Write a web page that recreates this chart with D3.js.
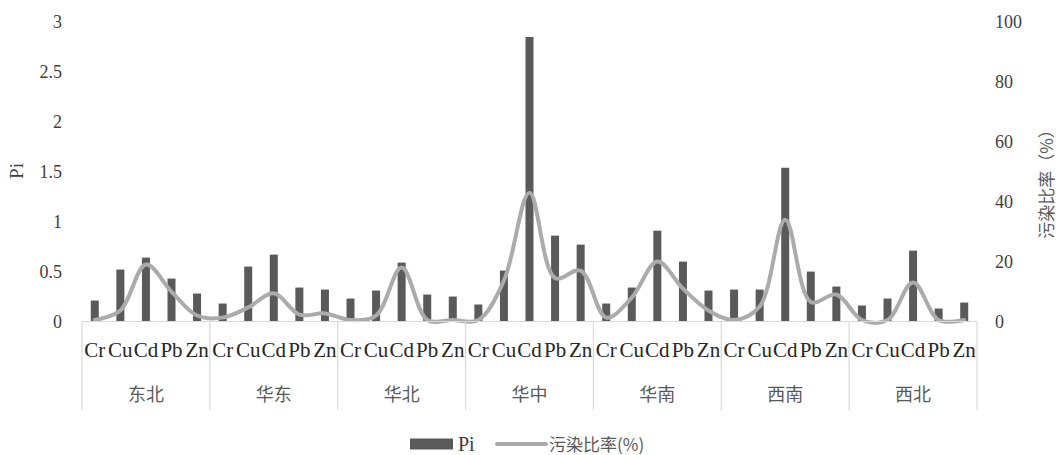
<!DOCTYPE html>
<html><head><meta charset="utf-8">
<script src="https://cdn.jsdelivr.net/npm/d3@7"></script>
<style>
body{margin:0;background:#fff}
.serif{font-family:"Liberation Serif","Times New Roman","DejaVu Serif",serif}
.cjk{font-family:"Noto Sans CJK SC","Noto Sans",sans-serif}
</style>
</head><body>
<svg id="c" width="1059" height="455"></svg>
<script>
const regions = ["东北","华东","华北","华中","华南","西南","西北"];
const elements = ["Cr","Cu","Cd","Pb","Zn"];
const piValues = [
  0.21,0.52,0.64,0.43,0.28,
  0.18,0.55,0.67,0.34,0.32,
  0.23,0.31,0.59,0.27,0.25,
  0.17,0.51,2.85,0.86,0.77,
  0.18,0.34,0.91,0.60,0.31,
  0.32,0.32,1.54,0.50,0.35,
  0.16,0.23,0.71,0.13,0.19
];
const ratioValues = [
  0.5,3.7,19,10,2,
  1.3,4.7,9.4,2.3,2.7,
  0.5,2,18,0.5,0.5,
  0.5,13.7,43,14.5,17,
  1.3,8,20,11,3.7,
  0.5,5,34,6.5,9,
  0.5,0.5,13,0.5,0.5
];
const leftTicks = [0,0.5,1,1.5,2,2.5,3];
const rightTicks = [0,20,40,60,80,100];

const svg = d3.select("#c");
const x0 = 82, x1 = 977, yTop = 22, yBase = 321.5;
const cats = d3.range(regions.length*elements.length);
const x = d3.scaleBand().domain(cats).range([x0,x1]).padding(0);
const yL = d3.scaleLinear().domain([0,3]).range([yBase,yTop]);
const yR = d3.scaleLinear().domain([0,100]).range([yBase,yTop]);

// bars
const bw = 8;
svg.append("g").selectAll("rect").data(piValues).join("rect")
  .attr("x",(d,i)=>x(i)+x.bandwidth()/2-bw/2)
  .attr("y",d=>yL(d))
  .attr("width",bw)
  .attr("height",d=>yBase-yL(d))
  .attr("fill","#5a5a5a");

// line
const line = d3.line().x((d,i)=>x(i)+x.bandwidth()/2).y(d=>yR(d)).curve(d3.curveCatmullRom.alpha(0.5));
svg.append("path").datum(ratioValues).attr("d",line)
  .attr("fill","none").attr("stroke","#ababab").attr("stroke-width",4)
  .attr("stroke-linejoin","round").attr("stroke-linecap","round");

// baseline & separators
svg.append("line").attr("x1",x0).attr("x2",x1).attr("y1",yBase).attr("y2",yBase)
  .attr("stroke","#d9d9d9").attr("stroke-width",1.2);
const step = (x1-x0)/regions.length;
d3.range(regions.length+1).forEach(i=>{
  svg.append("line").attr("x1",x0+i*step).attr("x2",x0+i*step)
    .attr("y1",yBase).attr("y2",410).attr("stroke","#d9d9d9").attr("stroke-width",1.2);
});

// category labels
svg.append("g").selectAll("text").data(cats).join("text")
  .attr("class","serif")
  .attr("x",i=>x(i)+x.bandwidth()/2).attr("y",357)
  .attr("text-anchor","middle").attr("font-size",21)
  .attr("fill","#262626").text(i=>elements[i%elements.length]);
svg.append("g").selectAll("text").data(regions).join("text")
  .attr("class","cjk")
  .attr("x",(d,i)=>x0+(i+0.5)*step).attr("y",401)
  .attr("text-anchor","middle").attr("font-size",18)
  .attr("fill","#595959").text(d=>d);

// left axis
const la = svg.append("g").attr("transform",`translate(${x0},0)`)
  .call(d3.axisLeft(yL).tickValues(leftTicks).tickSize(0).tickPadding(20).tickFormat(d3.format("~g")));
la.attr("font-family",null);
la.select(".domain").remove();
la.selectAll("text").attr("class","serif").attr("font-size",18).attr("fill","#404040");
// right axis
const ra = svg.append("g").attr("transform",`translate(${x1},0)`)
  .call(d3.axisRight(yR).tickValues(rightTicks).tickSize(0).tickPadding(18));
ra.attr("font-family",null);
ra.select(".domain").remove();
ra.selectAll("text").attr("class","serif").attr("font-size",18).attr("fill","#404040");

// axis titles
svg.append("text").attr("class","serif").attr("transform","translate(23,171) rotate(-90)")
  .attr("text-anchor","middle").attr("font-size",19)
  .attr("fill","#404040").text("Pi");
svg.append("text").attr("class","cjk").attr("transform","translate(1053,180) rotate(-90)")
  .attr("text-anchor","middle").attr("font-size",17)
  .attr("fill","#595959").text("污染比率（%）");

// legend
const lg = svg.append("g");
lg.append("rect").attr("x",410).attr("y",438.5).attr("width",43).attr("height",11).attr("fill","#5a5a5a");
lg.append("text").attr("class","serif").attr("x",458).attr("y",451).attr("font-size",20)
  .attr("fill","#404040").text("Pi");
lg.append("line").attr("x1",497).attr("x2",546).attr("y1",444).attr("y2",444)
  .attr("stroke","#ababab").attr("stroke-width",4).attr("stroke-linecap","round");
lg.append("text").attr("class","cjk").attr("x",549).attr("y",451).attr("font-size",17)
  .attr("fill","#595959").text("污染比率(%)");
</script>
</body></html>
